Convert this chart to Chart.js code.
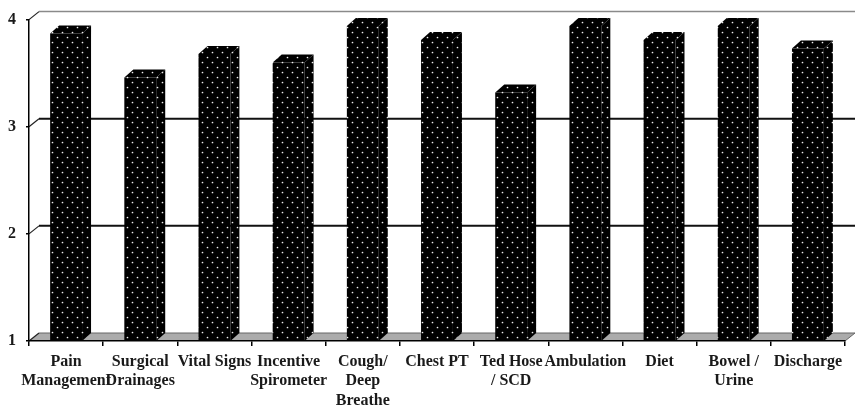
<!DOCTYPE html>
<html>
<head>
<meta charset="utf-8">
<script src="https://cdn.jsdelivr.net/npm/chart.js@4/dist/chart.umd.min.js"></script>
<style>
  html, body { margin: 0; padding: 0; background: #fff; }
  #wrap { width: 855px; height: 405px; }
</style>
</head>
<body>
<div id="wrap"><canvas id="chart" width="855" height="405"></canvas></div>
<script>
// Mean score per care topic (scale 1–4)
const categories = [
  ['Pain', 'Management'], ['Surgical', 'Drainages'], 'Vital Signs',
  ['Incentive', 'Spirometer'], ['Cough/', 'Deep', 'Breathe'], 'Chest PT',
  ['Ted Hose', '/ SCD'], 'Ambulation', 'Diet', ['Bowel /', 'Urine'], 'Discharge'
];
const scores = [3.87, 3.46, 3.68, 3.60, 3.94, 3.81, 3.32, 3.94, 3.81, 3.94, 3.73];
const yTicks = [1, 2, 3, 4];

const SERIF = '"Liberation Serif", "Times New Roman", serif';
const WALL = { dx: 10, dy: 8 };   // depth of back wall / floor
const BAR = { dx: 9, dy: 8 };     // depth of each column

// black fill with small staggered white dots
function dotPattern() {
  const c = document.createElement('canvas');
  c.width = 10; c.height = 10;
  const g = c.getContext('2d');
  g.fillStyle = '#000';
  g.fillRect(0, 0, 10, 10);
  g.fillStyle = '#f0f0f0';
  [[2.5, 2.5], [7.5, 7.5]].forEach(([x, y]) => {
    g.beginPath(); g.arc(x, y, 0.85, 0, Math.PI * 2); g.fill();
  });
  return c.getContext('2d').createPattern(c, 'repeat');
}
const dots = dotPattern();

// back wall grid, floor and column sides
const depthPlugin = {
  id: 'depth',
  beforeDraw(chart) {
    const { ctx, chartArea: a, scales: { y } } = chart;
    const { dx, dy } = WALL;
    const yb = y.getPixelForValue(y.min);
    ctx.save();
    // floor
    ctx.fillStyle = '#ababab';
    ctx.beginPath();
    ctx.moveTo(a.left, yb);
    ctx.lineTo(a.right, yb);
    ctx.lineTo(a.right + dx, yb - dy);
    ctx.lineTo(a.left + dx, yb - dy);
    ctx.closePath();
    ctx.fill();
    ctx.strokeStyle = '#666';
    ctx.lineWidth = 1;
    ctx.beginPath();
    ctx.moveTo(a.left + dx, yb - dy);
    ctx.lineTo(a.right + dx, yb - dy);
    ctx.lineTo(a.right, yb);
    ctx.stroke();
    // back grid lines and the short diagonal joining them to the axis
    yTicks.forEach(v => {
      const py = y.getPixelForValue(v);
      if (v > y.min) {
        ctx.strokeStyle = v === y.max ? '#8a8a8a' : '#111';
        ctx.lineWidth = v === y.max ? 1.5 : 2;
        ctx.beginPath();
        ctx.moveTo(a.left + dx, py - dy);
        ctx.lineTo(a.right + dx, py - dy);
        ctx.stroke();
      }
      ctx.strokeStyle = '#222';
      ctx.lineWidth = 1.2;
      ctx.beginPath();
      ctx.moveTo(a.left, py);
      ctx.lineTo(a.left + dx, py - dy);
      ctx.stroke();
    });
    ctx.restore();
  },
  afterDatasetsDraw(chart) {
    const { ctx, scales: { y: yScale } } = chart;
    const { dx, dy } = BAR;
    const floor = yScale.getPixelForValue(yScale.min);
    ctx.save();
    chart.getDatasetMeta(0).data.forEach(bar => {
      const { x, y, width } = bar.getProps(['x', 'y', 'width'], true);
      const x1 = x - width / 2, x2 = x + width / 2;
      ctx.fillStyle = dots;
      // side face
      ctx.beginPath();
      ctx.moveTo(x2, y);
      ctx.lineTo(x2 + dx, y - dy);
      ctx.lineTo(x2 + dx, floor - dy);
      ctx.lineTo(x2, floor);
      ctx.closePath();
      ctx.fill();
      // top face
      ctx.beginPath();
      ctx.moveTo(x1, y);
      ctx.lineTo(x1 + dx, y - dy);
      ctx.lineTo(x2 + dx, y - dy);
      ctx.lineTo(x2, y);
      ctx.closePath();
      ctx.fill();
    });
    ctx.restore();
  }
};

new Chart(document.getElementById('chart'), {
  type: 'bar',
  data: {
    labels: categories,
    datasets: [{
      data: scores,
      base: 1,
      backgroundColor: dots,
      borderWidth: 0,
      categoryPercentage: 1,
      barPercentage: 0.43
    }]
  },
  options: {
    responsive: false,
    animation: false,
    devicePixelRatio: 1,
    layout: { padding: { top: 17, right: 10, left: 0, bottom: 0 } },
    plugins: { legend: { display: false }, tooltip: { enabled: false } },
    scales: {
      x: {
        grid: { offset: true, drawOnChartArea: false, tickLength: 5, color: '#000', lineWidth: 1.5 },
        border: { color: '#000', width: 1.5 },
        ticks: {
          autoSkip: false, maxRotation: 0, minRotation: 0, padding: 6,
          color: '#1a1a1a',
          font: { family: SERIF, weight: 'bold', size: 16, lineHeight: 1.22 }
        },
        afterFit(s) { s.height = 64; }
      },
      y: {
        min: 1, max: 4,
        afterBuildTicks(s) { s.ticks = yTicks.map(v => ({ value: v })); },
        grid: { drawOnChartArea: false, tickLength: 3, color: '#000', lineWidth: 1.5 },
        border: { color: '#000', width: 1.5 },
        ticks: {
          padding: 10, color: '#1a1a1a',
          font: { family: SERIF, weight: 'bold', size: 16 }
        },
        afterFit(s) { s.width = 29; }
      }
    }
  },
  plugins: [depthPlugin]
});
</script>
</body>
</html>
